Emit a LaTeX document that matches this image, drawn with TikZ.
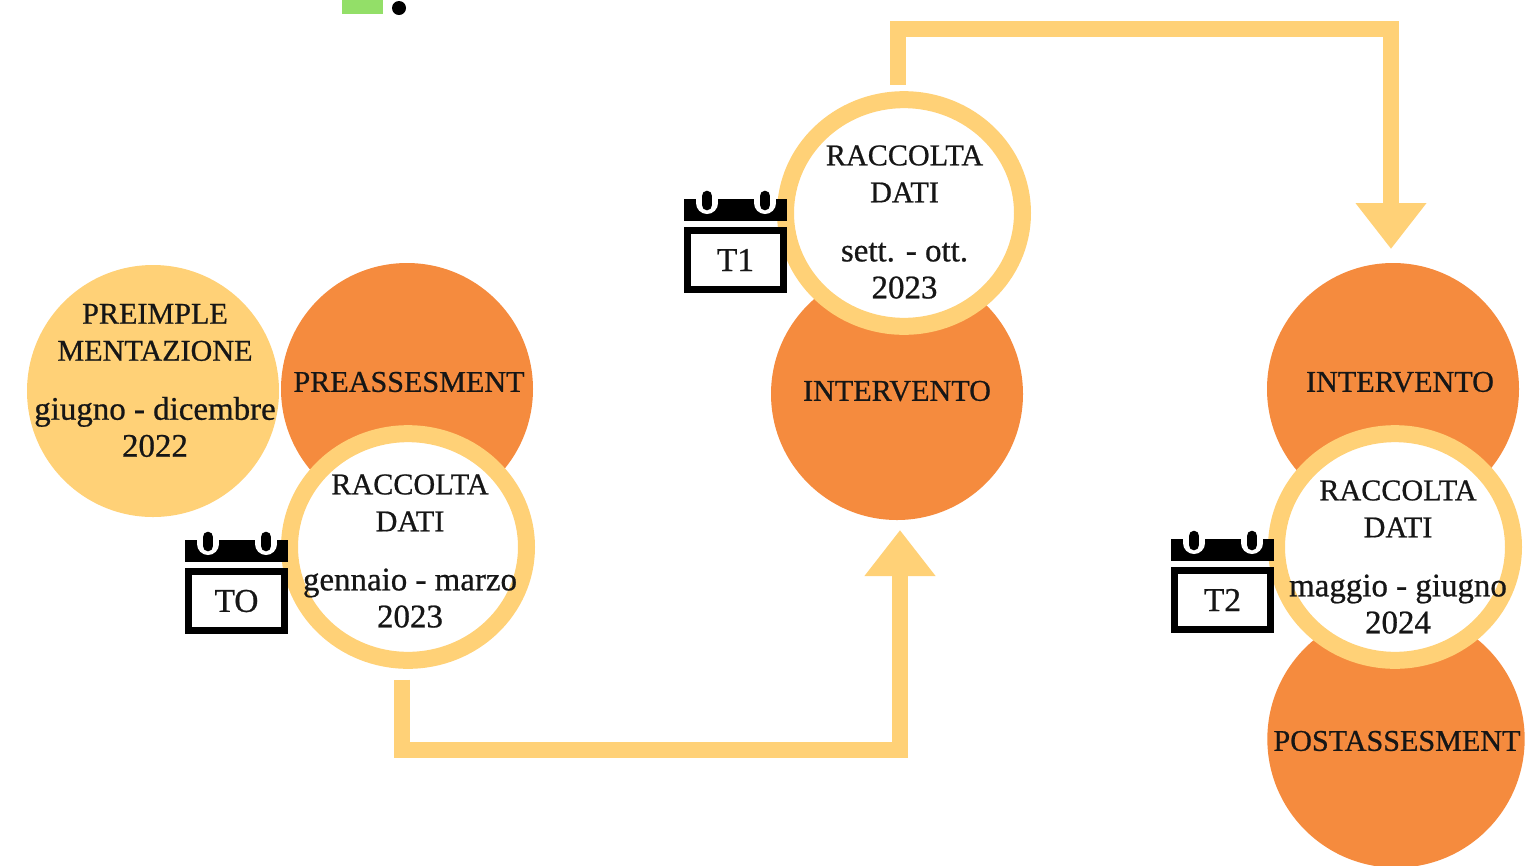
\documentclass[tikz,border=0pt]{standalone}
\usepackage{fontspec}
\setmainfont{Liberation Serif}[FakeBold=0.7]
\usetikzlibrary{arrows.meta,shapes.geometric}
\definecolor{orangec}{HTML}{F58B3E}
\definecolor{yellowc}{HTML}{FFD177}
\definecolor{greenc}{HTML}{93DF68}
\definecolor{inkc}{HTML}{161616}
\newcommand{\lowline}[1]{{\fontsize{24.7}{27.75}\selectfont #1}}
\newcommand{\gapline}{\\[16.5pt]}
\newcommand{\calicon}[4]{%
  \fill[black] (#2,#3+8) rectangle (#2+103,#3+30);
  \foreach \pegx in {23,81}{
    \fill[white] (#2+\pegx-11,#3+8) rectangle (#2+\pegx+11,#3+12);
    \fill[white] (#2+\pegx,#3+12) circle (8.25pt);
    \draw[black,line width=8pt,line cap=round] (#2+\pegx,#3+5) -- (#2+\pegx,#3+14);
  }
  \node[calframe] (#1) at (#2+51.5,#3+69) {\raisebox{-1.5pt}{#4}};
}
\tikzset{
  solidc/.style={circle,fill=#1,minimum size=189pt,inner sep=0pt,outer sep=0pt},
  ringc/.style={ellipse,draw=yellowc,fill=white,line width=12.75pt,minimum width=177.75pt,minimum height=170pt,inner sep=0pt},
  txt/.style={text=inkc,align=center,font=\fontsize{22.6}{27.75}\selectfont,inner sep=0pt},
  calframe/.style={rectangle,draw=black,fill=white,line width=5.6pt,minimum width=72pt,minimum height=44pt,inner sep=0pt,text=inkc,font=\fontsize{25}{28}\selectfont},
  flow/.style={draw=yellowc,line width=12pt,-{Triangle[length=34.5pt,width=51pt,fill=yellowc]}}
}
\begin{document}
\begin{tikzpicture}[x=0.75pt,y=-0.75pt]
\useasboundingbox (0,0) rectangle (1536,865);
\clip (0,0) rectangle (1536,865);
\fill[greenc] (342,0) rectangle (383,14);
\fill[black] (399,8) circle (5.25pt);
% circles
\node[solidc=yellowc] (pre) at (153,391) {};
\node[solidc=orangec] (pa) at (407,389) {};
\node[solidc=orangec] (int1) at (897,394) {};
\node[solidc=orangec] (int2) at (1393,389) {};
\node[solidc=orangec,minimum size=193pt] (post) at (1396,739) {};
\node[ringc] (t0) at (408,547) {};
\node[ringc] (t1) at (904,213) {};
\node[ringc] (t2) at (1395,547) {};
% connectors
\coordinate (c0) at (650,750);
\coordinate (c1) at (1150,29);
\draw[flow,shorten <=8pt,shorten >=7.5pt] ([xshift=-4.5pt]t0.south) |- (c0) -| ([xshift=2.25pt]int1.south);
\draw[flow,shorten <=5pt,shorten >=10.5pt] ([xshift=-4.5pt]t1.north) |- (c1) -| ([xshift=-1.5pt]int2.north);
% calendars
\calicon{cal0}{185}{532}{TO}
\calicon{cal1}{684}{191}{T1}
\calicon{cal2}{1171}{531}{T2}
% texts
\node[txt] (pretxt) at (155,380.5) {PREIMPLE\\MENTAZIONE\gapline\lowline{giugno - dicembre}\\\lowline{2022}};
\node[txt] (patxt) at (409,382) {PREASSESMENT};
\node[txt] (t0txt) at (410,551) {RACCOLTA\\DATI\gapline\lowline{gennaio - marzo}\\\lowline{2023}};
\node[txt] (t1txt) at (904.5,222) {RACCOLTA\\DATI\gapline\lowline{sett. - ott.}\\\lowline{2023}};
\node[txt] (int1txt) at (897,391) {INTERVENTO};
\node[txt] (int2txt) at (1400,382) {INTERVENTO};
\node[txt] (t2txt) at (1398,557) {RACCOLTA\\DATI\gapline\lowline{maggio - giugno}\\\lowline{2024}};
\node[txt] (posttxt) at (1397,741) {POSTASSESMENT};
\end{tikzpicture}
\end{document}
